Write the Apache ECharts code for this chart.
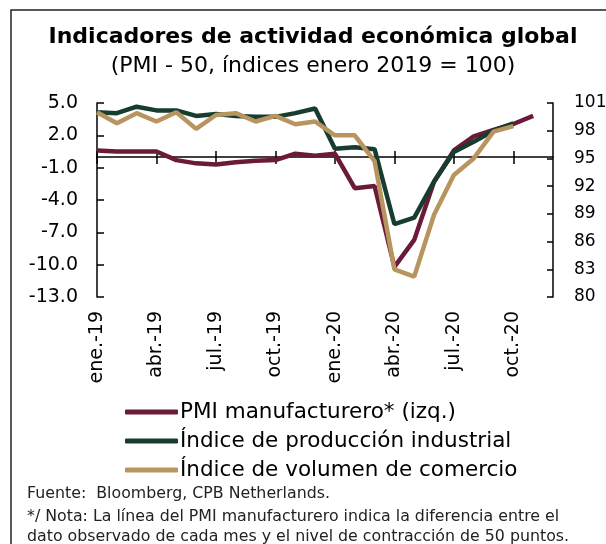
<!DOCTYPE html>
<html>
<head>
<meta charset="utf-8">
<title>Indicadores de actividad económica global</title>
<script src="https://cdn.jsdelivr.net/npm/echarts@6/dist/echarts.min.js"></script>
<style>
  html, body { margin: 0; padding: 0; background: #fff; }
  #chart { width: 606px; height: 544px; }
</style>
</head>
<body>
<div id="chart"></div>
<script>
// meses ene.-19 a dic.-20
var months = ['ene.', 'feb.', 'mar.', 'abr.', 'may.', 'jun.', 'jul.', 'ago.', 'sep.', 'oct.', 'nov.', 'dic.'];
var categories = months.map(function(m){ return m + '-19'; })
	.concat(months.map(function(m){ return m + '-20'; }));

// PMI manufacturero - 50 (eje izq.)
var pmi = [0.6, 0.5, 0.5, 0.5, -0.3, -0.6, -0.7, -0.5, -0.35, -0.3, 0.3, 0.1,
	0.3, -2.9, -2.7, -10.2, -7.7, -2.3, 0.6, 1.9, 2.5, 3.05, 3.8];

// índices ene 2019 = 100 (eje der.)
var produccion = [100.0, 99.9, 100.6, 100.2, 100.2, 99.6, 99.8, 99.6, 99.5, 99.5, 99.9, 100.4,
	96.05, 96.2, 96.0, 87.9, 88.6, 92.5, 95.7, 96.8, 98.0, 98.8];
var comercio = [100.0, 98.8, 99.9, 99.0, 100.0, 98.2, 99.7, 99.9, 99.0, 99.6, 98.7, 99.0,
	97.5, 97.5, 94.7, 83.0, 82.2, 88.9, 93.2, 95.0, 97.9, 98.5];

var leftTicks = { min: -13, max: 5, interval: 3 };
var rightTicks = { min: 80, max: 101, interval: 3 };

var FONT = 'DejaVu Sans';

var chart = echarts.init(document.getElementById('chart'), null, { renderer: 'canvas' });

var option = {
	animation: false,
	backgroundColor: '#fff',
	textStyle: { fontFamily: FONT, color: '#000' },
	grid: { left: 97, right: 53, top: 103, bottom: 247, outerBoundsMode: 'none' },
	legend: {
		orient: 'vertical',
		left: 125,
		top: 401,
		padding: 0,
		itemGap: 7,
		itemWidth: 53,
		itemHeight: 5,
		icon: 'roundRect',
		textStyle: { fontFamily: FONT, fontSize: 21.5, color: '#000', padding: [0, 0, 0, -3] },
		data: ['PMI manufacturero* (izq.)', 'Índice de producción industrial', 'Índice de volumen de comercio']
	},
	xAxis: [{
		type: 'category',
		data: categories,
		boundaryGap: false,
		position: 'bottom',
		axisLine: { onZero: true, onZeroAxisIndex: 0, lineStyle: { color: '#000', width: 1.5 } },
		axisTick: { show: true, interval: 2, length: 7, lineStyle: { color: '#000', width: 1.5 } },
		axisLabel: { interval: 2, rotate: 90, margin: 14, fontSize: 19, color: '#000', fontFamily: FONT }
	}, {
		// ticks hacia arriba sobre la línea del cero
		type: 'category',
		data: categories,
		boundaryGap: false,
		position: 'top',
		axisLine: { show: false, onZero: true, onZeroAxisIndex: 0 },
		axisTick: { show: true, interval: 2, length: 6, lineStyle: { color: '#000', width: 1.5 } },
		axisLabel: { show: false }
	}],
	yAxis: [{
		type: 'value',
		position: 'left',
		min: leftTicks.min,
		max: leftTicks.max,
		interval: leftTicks.interval,
		splitLine: { show: false },
		axisLine: { show: true, lineStyle: { color: '#000', width: 1.5 } },
		axisTick: { show: true, inside: true, length: 7, lineStyle: { color: '#000', width: 1.5 } },
		axisLabel: {
			margin: 19, fontSize: 19, color: '#000', fontFamily: FONT,
			formatter: function(v){ return v.toFixed(1); }
		}
	}, {
		type: 'value',
		position: 'right',
		min: rightTicks.min,
		max: rightTicks.max,
		interval: rightTicks.interval,
		splitLine: { show: false },
		axisLine: { show: true, lineStyle: { color: '#000', width: 1.5 } },
		axisTick: { show: true, inside: true, length: 6, lineStyle: { color: '#000', width: 1.5 } },
		axisLabel: { margin: 21, fontSize: 17, color: '#000', fontFamily: FONT }
	}],
	series: [{
		name: 'PMI manufacturero* (izq.)',
		type: 'line',
		yAxisIndex: 0,
		data: pmi,
		symbol: 'none',
		color: '#6b1a3a',
		lineStyle: { width: 4.5, color: '#6b1a3a' }
	}, {
		name: 'Índice de producción industrial',
		type: 'line',
		yAxisIndex: 1,
		data: produccion,
		symbol: 'none',
		color: '#173d2f',
		lineStyle: { width: 4.5, color: '#173d2f' }
	}, {
		name: 'Índice de volumen de comercio',
		type: 'line',
		yAxisIndex: 1,
		data: comercio,
		symbol: 'none',
		color: '#b8955f',
		lineStyle: { width: 4.5, color: '#b8955f' }
	}],
	graphic: [{
		type: 'rect',
		shape: { x: 11, y: 10, width: 800, height: 800 },
		style: { fill: 'none', stroke: '#222', lineWidth: 1.5 },
		silent: true
	}, {
		type: 'text',
		x: 313,
		y: 37,
		style: {
			text: 'Indicadores de actividad económica global',
			font: 'bold 22px "DejaVu Sans"', fill: '#000',
			align: 'center', verticalAlign: 'middle'
		}
	}, {
		type: 'text',
		x: 313,
		y: 66,
		style: {
			text: '(PMI - 50, índices enero 2019 = 100)',
			font: '22px "DejaVu Sans"', fill: '#000',
			align: 'center', verticalAlign: 'middle'
		}
	}, {
		type: 'text',
		left: 27,
		top: 486,
		style: { text: 'Fuente:  Bloomberg, CPB Netherlands.', font: '15.8px "DejaVu Sans"', fill: '#222' }
	}, {
		type: 'text',
		left: 27,
		top: 507,
		style: {
			text: '*/ Nota: La línea del PMI manufacturero indica la diferencia entre el\ndato observado de cada mes y el nivel de contracción de 50 puntos.',
			font: '15.8px "DejaVu Sans"', fill: '#222', lineHeight: 20
		}
	}]
};

chart.setOption(option);
</script>
</body>
</html>
